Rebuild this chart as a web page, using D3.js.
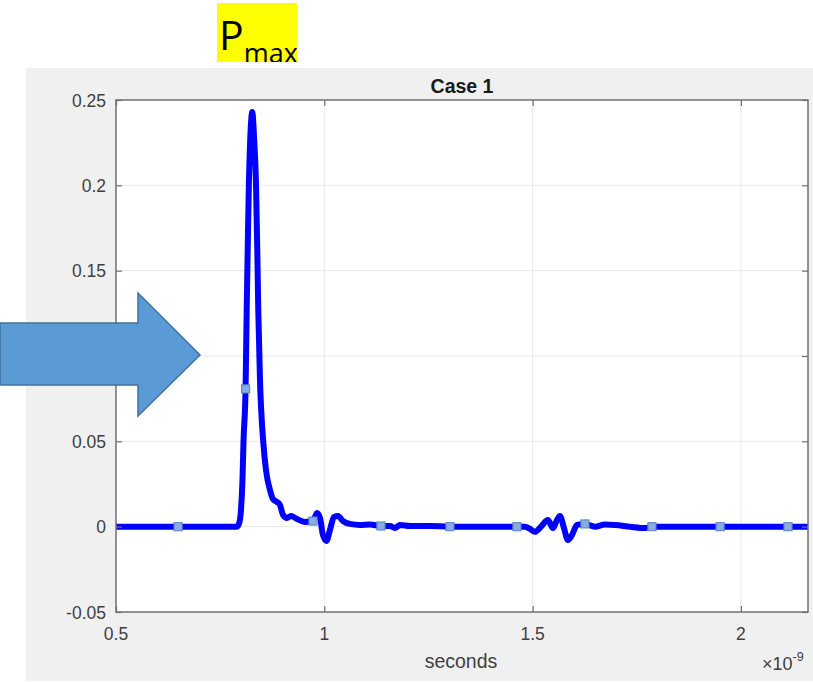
<!DOCTYPE html>
<html>
<head>
<meta charset="utf-8">
<script src="https://cdn.jsdelivr.net/npm/d3@7"></script>
<style>
  html, body { margin: 0; padding: 0; background: #fff; }
  svg { display: block; }
</style>
</head>
<body>
<div id="chart"></div>
<script>
// time in units of 1e-9 s
var timeVals = [0.5, 0.7904, 0.7964, 0.80, 0.8036, 0.806, 0.811, 0.8137, 0.8161, 0.819, 0.8221, 0.8271,
  0.8317, 0.836, 0.8391, 0.8415, 0.8456, 0.8535, 0.86, 0.8696, 0.8768, 0.8864, 0.8936, 0.9008, 0.9104,
  0.92, 0.9344, 0.9536, 0.9728, 0.9824, 0.9896, 0.9968, 1.0052, 1.0136, 1.0232, 1.0328, 1.0448, 1.0616,
  1.0856, 1.1096, 1.136, 1.1576, 1.1696, 1.1816, 1.2056, 1.2536, 1.3016, 1.3736, 1.4624, 1.4816, 1.4936,
  1.5056, 1.52, 1.5368, 1.5488, 1.5584, 1.5656, 1.5752, 1.5848, 1.5944, 1.6064, 1.6256, 1.6496, 1.6736,
  1.6976, 1.7336, 1.7696, 1.7864, 1.85, 1.95, 2.05, 2.113, 2.16];
var powerVals = [0, 0, 0.0028, 0.0098, 0.0274, 0.0496, 0.0807, 0.1269, 0.1621, 0.2013, 0.2265, 0.2429,
  0.2265, 0.2013, 0.1621, 0.1269, 0.086, 0.0496, 0.0332, 0.0215, 0.0162, 0.0145, 0.0127, 0.0069, 0.0051,
  0.0063, 0.0045, 0.0028, 0.0033, 0.008, 0.0051, -0.0049, -0.0084, -0.0019, 0.0057, 0.0063, 0.0033, 0.0016,
  0.001, 0.0013, 0.0004, 0.0004, -0.0008, 0.001, 0.0004, 0.0004, 0, 0, 0, 0, -0.0013,
  -0.003, 0, 0.0039, -0.0008, 0.0039, 0.0063, -0.0008, -0.0078, -0.0049, 0.001, 0.0016, 0, 0.0013,
  0.001, 0, -0.0008, 0, 0, 0, 0, 0, 0];

var markerT = [0.649, 0.811, 0.9728, 1.136, 1.3016, 1.4624, 1.6256, 1.7864, 1.95, 2.113];
var markerV = [0, 0.0807, 0.0033, 0.0004, 0, 0, 0.0016, 0, 0, 0];

var xTicks = [0.5, 1, 1.5, 2];
var yTicks = [-0.05, 0, 0.05, 0.1, 0.15, 0.2, 0.25];
var yTickLabels = ["-0.05", "0", "0.05", "0.1", "0.15", "0.2", "0.25"];

var W = 813, H = 682;
var plot = { left: 116, top: 100, right: 808, bottom: 612 };

var svg = d3.select("#chart").append("svg").attr("width", W).attr("height", H);

// figure background
svg.append("rect").attr("x", 26).attr("y", 68).attr("width", W - 26).attr("height", 613)
  .attr("fill", "#f0f0f0");

var x = d3.scaleLinear().domain([0.5, 2.161]).range([plot.left, plot.right]);
var y = d3.scaleLinear().domain([-0.05, 0.25]).range([plot.bottom, plot.top]);

svg.append("rect").attr("x", plot.left).attr("y", plot.top)
  .attr("width", plot.right - plot.left).attr("height", plot.bottom - plot.top)
  .attr("fill", "#fff");

// grid
var grid = svg.append("g").attr("stroke", "#e8e8e8").attr("stroke-width", 1);
grid.selectAll(".gx").data(xTicks.slice(1)).enter().append("line")
  .attr("x1", d => x(d)).attr("x2", d => x(d)).attr("y1", plot.top).attr("y2", plot.bottom);
grid.selectAll(".gy").data(yTicks.slice(1, -1)).enter().append("line")
  .attr("y1", d => y(d)).attr("y2", d => y(d)).attr("x1", plot.left).attr("x2", plot.right);

// curve
svg.append("clipPath").attr("id", "clip").append("rect")
  .attr("x", plot.left).attr("y", plot.top)
  .attr("width", plot.right - plot.left).attr("height", plot.bottom - plot.top);

var pts = timeVals.map((t, i) => [t, powerVals[i]]);
var line = d3.line().x(d => x(d[0])).y(d => y(d[1])).curve(d3.curveMonotoneX);

var body_g = svg.append("g").attr("clip-path", "url(#clip)");
body_g.append("path").datum(pts)
  .attr("d", line)
  .attr("fill", "none")
  .attr("stroke", "#0000ff")
  .attr("stroke-width", 6)
  .attr("stroke-linejoin", "round")
  .attr("stroke-linecap", "round");

body_g.selectAll(".mk").data(markerT).enter().append("rect")
  .attr("x", d => x(d) - 4)
  .attr("y", (d, i) => y(markerV[i]) - 4)
  .attr("width", 8).attr("height", 8)
  .attr("fill", "#8cabe6")
  .attr("stroke", "#5e8fbf")
  .attr("stroke-width", 1.2);

// axes box
var axisColor = "#707070";
svg.append("rect").attr("x", plot.left).attr("y", plot.top)
  .attr("width", plot.right - plot.left).attr("height", plot.bottom - plot.top)
  .attr("fill", "none").attr("stroke", axisColor).attr("stroke-width", 1.5);

var xAxisB = d3.axisBottom(x).tickValues(xTicks).tickSizeInner(-6).tickSizeOuter(0).tickFormat("");
var xAxisT = d3.axisTop(x).tickValues(xTicks).tickSizeInner(-6).tickSizeOuter(0).tickFormat("");
var yAxisL = d3.axisLeft(y).tickValues(yTicks).tickSizeInner(-6).tickSizeOuter(0).tickFormat("");
var yAxisR = d3.axisRight(y).tickValues(yTicks).tickSizeInner(-6).tickSizeOuter(0).tickFormat("");

[[xAxisB, "translate(0," + plot.bottom + ")"], [xAxisT, "translate(0," + plot.top + ")"],
 [yAxisL, "translate(" + plot.left + ",0)"], [yAxisR, "translate(" + plot.right + ",0)"]].forEach(a => {
  var g = svg.append("g").attr("transform", a[1]).call(a[0]);
  g.select(".domain").remove();
  g.selectAll(".tick line").attr("stroke", axisColor).attr("stroke-width", 1.2);
});

var font = "'Liberation Sans', Arial, Helvetica, sans-serif";
var txtColor = "#404040";

// tick labels
svg.selectAll(".xl").data(xTicks).enter().append("text")
  .attr("x", d => x(d)).attr("y", 640)
  .attr("text-anchor", "middle")
  .style("font-family", font).style("font-size", "17.5px").attr("fill", txtColor)
  .text(d => d);

svg.selectAll(".yl").data(yTicks).enter().append("text")
  .attr("x", 106).attr("y", d => y(d) + 6.5)
  .attr("text-anchor", "end")
  .style("font-family", font).style("font-size", "17.5px").attr("fill", txtColor)
  .text((d, i) => yTickLabels[i]);

// title and labels
svg.append("text").attr("x", 462).attr("y", 93).attr("text-anchor", "middle")
  .style("font-family", font).style("font-size", "19.5px").style("font-weight", "bold")
  .attr("fill", "#1a1a1a").text("Case 1");

svg.append("text").attr("x", 461).attr("y", 668).attr("text-anchor", "middle")
  .style("font-family", font).style("font-size", "19.5px").attr("fill", txtColor)
  .text("seconds");

var expo = svg.append("text").attr("x", 762).attr("y", 670)
  .style("font-family", font).style("font-size", "18px").attr("fill", txtColor);
expo.append("tspan").text("\u00d710");
expo.append("tspan").attr("dy", -9).style("font-size", "12.5px").text("-9");

// arrow annotation
var arrowPts = [[0, 323], [138, 323], [138, 293], [200, 355], [138, 416], [138, 385], [0, 385]];
svg.append("polygon")
  .attr("points", arrowPts.map(p => p.join(",")).join(" "))
  .attr("fill", "#5b9bd5")
  .attr("stroke", "#41719c")
  .attr("stroke-width", 1.5);

// P_max label
svg.append("clipPath").attr("id", "pclip").append("rect")
  .attr("x", 217).attr("y", 3).attr("width", 80).attr("height", 59);
var pg = svg.append("g").attr("clip-path", "url(#pclip)");
pg.append("rect").attr("x", 217).attr("y", 3).attr("width", 80).attr("height", 59).attr("fill", "#ffff00");
var pt = pg.append("text").attr("x", 219).attr("y", 50)
  .style("font-family", "'Open Sans', sans-serif").attr("fill", "#000");
pt.append("tspan").style("font-size", "41px").text("P");
pt.append("tspan").attr("dy", 13).style("font-size", "27px").text("max");
</script>
</body>
</html>
